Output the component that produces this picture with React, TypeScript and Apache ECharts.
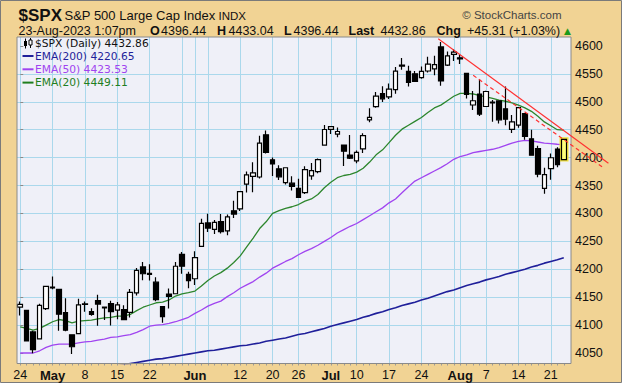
import React, { useEffect, useRef } from "react";
import * as echarts from "echarts";

const categories = [
  "2023-04-24","2023-04-25","2023-04-26","2023-04-27","2023-04-28",
  "2023-05-01","2023-05-02","2023-05-03","2023-05-04","2023-05-05",
  "2023-05-08","2023-05-09","2023-05-10","2023-05-11","2023-05-12",
  "2023-05-15","2023-05-16","2023-05-17","2023-05-18","2023-05-19",
  "2023-05-22","2023-05-23","2023-05-24","2023-05-25","2023-05-26",
  "2023-05-30","2023-05-31","2023-06-01","2023-06-02",
  "2023-06-05","2023-06-06","2023-06-07","2023-06-08","2023-06-09",
  "2023-06-12","2023-06-13","2023-06-14","2023-06-15","2023-06-16",
  "2023-06-20","2023-06-21","2023-06-22","2023-06-23",
  "2023-06-26","2023-06-27","2023-06-28","2023-06-29","2023-06-30",
  "2023-07-03","2023-07-05","2023-07-06","2023-07-07",
  "2023-07-10","2023-07-11","2023-07-12","2023-07-13","2023-07-14",
  "2023-07-17","2023-07-18","2023-07-19","2023-07-20","2023-07-21",
  "2023-07-24","2023-07-25","2023-07-26","2023-07-27","2023-07-28",
  "2023-07-31","2023-08-01","2023-08-02","2023-08-03","2023-08-04",
  "2023-08-07","2023-08-08","2023-08-09","2023-08-10","2023-08-11",
  "2023-08-14","2023-08-15","2023-08-16","2023-08-17","2023-08-18",
  "2023-08-21","2023-08-22","2023-08-23",
];

const opens = [
  4132.07,4126.43,4087.78,4075.29,4129.63,
  4166.79,4164.10,4122.25,4082.61,4084.73,
  4136.98,4124.25,4143.74,4132.24,4138.54,
  4126.65,4127.95,4122.85,4157.68,4204.15,
  4190.78,4176.80,4132.96,4155.71,4156.16,
  4226.71,4190.74,4183.03,4241.01,
  4282.99,4271.61,4285.47,4268.69,4304.88,
  4308.32,4352.61,4366.29,4365.33,4440.95,
  4396.11,4380.01,4355.40,4354.17,
  4344.84,4337.36,4367.48,4374.94,4422.44,
  4450.48,4442.04,4422.62,4404.54,
  4394.23,4415.55,4467.69,4491.50,4514.61,
  4508.86,4521.78,4563.87,4554.38,4550.16,
  4543.39,4555.19,4558.96,4598.26,4565.75,
  4584.82,4578.83,4550.93,4494.27,4513.96,
  4491.58,4498.03,4501.57,4487.36,4450.69,
  4458.13,4478.87,4433.79,4416.32,4344.88,
  4380.28,4415.33,4396.44,
];
const highs = [
  4142.41,4126.43,4089.67,4138.24,4170.06,
  4186.92,4164.10,4148.30,4082.61,4147.02,
  4142.30,4130.35,4154.28,4132.80,4143.74,
  4141.25,4135.54,4164.67,4202.20,4212.91,
  4209.22,4185.68,4132.96,4165.74,4212.87,
  4231.10,4195.44,4232.43,4290.67,
  4299.28,4288.33,4299.19,4298.01,4322.62,
  4340.13,4375.37,4391.82,4439.20,4448.47,
  4400.15,4386.22,4382.25,4366.55,
  4362.06,4384.42,4390.35,4398.39,4458.48,
  4456.46,4454.06,4422.62,4440.39,
  4412.60,4443.64,4488.34,4517.38,4527.76,
  4532.85,4562.30,4578.43,4564.74,4555.00,
  4563.41,4580.62,4582.47,4607.07,4590.16,
  4594.22,4584.62,4550.93,4519.49,4540.34,
  4519.84,4503.31,4502.44,4527.37,4476.23,
  4490.33,4478.87,4449.95,4421.17,4381.82,
  4407.55,4418.59,4433.04,
];
const lows = [
  4117.41,4071.38,4049.35,4075.29,4127.18,
  4164.12,4089.72,4088.86,4048.28,4084.73,
  4123.81,4116.65,4098.92,4109.29,4099.12,
  4110.27,4109.86,4113.62,4153.14,4180.20,
  4179.68,4142.54,4103.98,4129.73,4156.16,
  4192.18,4166.15,4171.64,4241.01,
  4266.82,4263.09,4263.96,4261.07,4291.70,
  4304.37,4337.54,4337.85,4362.60,4407.44,
  4367.19,4360.14,4351.82,4341.34,
  4328.08,4335.00,4360.22,4371.97,4422.44,
  4442.29,4436.61,4385.05,4397.40,
  4389.92,4408.46,4463.23,4489.36,4499.56,
  4504.90,4514.59,4557.48,4527.56,4535.79,
  4541.29,4552.42,4547.58,4528.56,4564.01,
  4573.14,4567.53,4505.75,4485.54,4474.55,
  4491.15,4464.39,4461.33,4457.92,4443.98,
  4453.44,4432.19,4403.55,4364.83,4335.31,
  4360.30,4382.77,4396.44,
];
const closes = [
  4137.04,4071.63,4055.99,4135.35,4169.48,
  4167.87,4119.58,4090.75,4061.22,4136.25,
  4138.12,4119.17,4137.64,4130.62,4124.08,
  4136.28,4109.90,4158.77,4198.05,4191.98,
  4192.63,4145.58,4115.24,4151.28,4205.45,
  4205.52,4179.83,4221.02,4282.37,
  4273.79,4283.85,4267.52,4293.93,4298.86,
  4338.93,4369.01,4372.59,4425.84,4409.59,
  4388.71,4365.69,4381.89,4348.33,
  4328.82,4378.41,4376.86,4396.44,4450.38,
  4455.59,4446.82,4411.59,4398.95,
  4409.53,4439.26,4472.16,4510.04,4505.42,
  4522.79,4554.98,4565.72,4534.87,4536.34,
  4554.64,4567.46,4566.75,4537.41,4582.23,
  4588.96,4576.73,4513.39,4501.89,4478.03,
  4518.44,4499.38,4467.71,4468.83,4464.05,
  4489.72,4437.86,4404.33,4370.36,4369.71,
  4399.77,4387.55,4432.86,
];

const ema20 = [
  4097,4094,4091,4094,4100,4106,4110,4108,4104,4107,
  4108,4109,4111,4113,4114,4116,4116,4119,4126,4132,
  4136,4140,4141,4145,4152,4156,4158,4161,4170,4180,
  4188,4194,4202,4212,4224,4240,4256,4273,4285,4300,
  4305,4309,4312,4316,4322,4326,4334,4346,4356,4364,
  4368,4370,4374,4381,4392,4405,4414,4427,4440,4451,
  4458,4465,4472,4481,4489,4494,4502,4510,4515,4515,
  4514,4511,4509,4506,4503,4501,4498,4494,4489,4483,
  4474,4464,4457,4450,4449.11,
];
const ema50 = [
  4050,4050,4050,4054,4060,4064,4066,4066,4066,4068,
  4070,4071,4073,4075,4078,4079,4081,4083,4087,4092,
  4098,4100,4101,4103,4106,4110,4114,4121,4127,4134,
  4139,4143,4151,4158,4166,4172,4178,4186,4193,4202,
  4208,4214,4219,4226,4232,4237,4243,4250,4257,4265,
  4271,4277,4282,4289,4296,4303,4310,4319,4326,4337,
  4348,4358,4364,4370,4376,4382,4389,4397,4402,4405,
  4409,4411,4413,4415,4418,4422,4426,4429,4431,4430,
  4428,4426,4425,4424,4423.53,
];
const ema200 = [
  4005,4006,4007,4008,4010,4011,4012,4013,4014,4016,
  4017,4019,4020,4022,4024,4027,4029,4031,4033,4035,
  4037,4039,4040,4042,4044,4046,4048,4050,4052,4054,
  4055,4057,4059,4061,4063,4064,4066,4068,4071,4073,
  4075,4077,4080,4083,4085,4088,4091,4094,4098,4101,
  4104,4107,4110,4114,4117,4121,4124,4128,4131,4135,
  4138,4141,4145,4148,4152,4156,4160,4163,4167,4171,
  4174,4177,4181,4184,4187,4191,4194,4197,4200,4204,
  4207,4211,4214,4217,4220.65,
];

const yTicks = [4050,4100,4150,4200,4250,4300,4350,4400,4450,4500,4550,4600];
const tickLabels: [string, string][] = [
  ["2023-04-24","24"],["2023-05-01","May"],["2023-05-08","8"],["2023-05-15","15"],
  ["2023-05-22","22"],["2023-06-01","Jun"],["2023-06-12","12"],["2023-06-20","20"],
  ["2023-06-26","26"],["2023-07-03","Jul"],["2023-07-10","10"],["2023-07-17","17"],
  ["2023-07-24","24"],["2023-08-01","Aug"],["2023-08-07","7"],["2023-08-14","14"],
  ["2023-08-21","21"],
];
const monthLabels = ["May","Jun","Jul","Aug"];
const gridDates = [
  "2023-04-24","2023-05-01","2023-05-08","2023-05-15","2023-05-22","2023-05-30",
  "2023-06-01","2023-06-05","2023-06-12","2023-06-20","2023-06-26","2023-07-03",
  "2023-07-10","2023-07-17","2023-07-24","2023-07-31","2023-08-01","2023-08-07",
  "2023-08-14","2023-08-21",
];
// trendlines: [trading-day position, price]
const trendSolid = [[64.6, 4613], [90.9, 4390]];
const trendDashed = [[70.0, 4547.5], [90.0, 4383]];

const legendItems = [
  { label: "EMA(200) 4220.65", color: "#1f1f9a" },
  { label: "EMA(50) 4423.53", color: "#a044f0" },
  { label: "EMA(20) 4449.11", color: "#1f7f1f" },
];

export default function App() {
  const ref = useRef<HTMLDivElement>(null);
  useEffect(() => {
    const el = ref.current;
    if (!el) return;
    const chart = echarts.init(el, undefined, { renderer: "svg" });

    const labelMap = new Map(tickLabels);
    const gridSet = new Set(gridDates);
    const last = categories.length - 1;
    const band = 550 / 85;
    const gbLeft = 17 + band / 2;
    const gbWidth = band * (categories.length - 1);

    const candleData = categories.map((_, i) => {
      const v = [opens[i], closes[i], lows[i], highs[i]];
      if (i === last) {
        return { value: v, itemStyle: { color: "#ffff7a", borderColor: "#000" } };
      }
      return v;
    });

    const SANS = "Liberation Sans";
    const txt = (text: string, x: number, y: number, size: number, opts: any = {}) => ({
      type: "text",
      x,
      y,
      z: 20,
      silent: true,
      style: {
        text,
        fill: opts.fill || "#111",
        fontSize: size,
        fontFamily: opts.family || SANS,
        fontWeight: opts.bold ? "bold" : "normal",
        align: opts.align || "left",
        verticalAlign: "middle",
      },
    });

    const graphics: any[] = [
      { type: "rect", z: -20, silent: true, shape: { x: 0.5, y: 0.5, width: 621, height: 382 }, style: { fill: "#f1d394", stroke: "#7a7a7a", lineWidth: 1 } },
      { type: "rect", z: -10, silent: true, shape: { x: 17, y: 37, width: 554, height: 326.5 }, style: { fill: "#eff0f8" } },
      { type: "rect", z: 15, silent: true, shape: { x: 17, y: 37, width: 554, height: 326.5 }, style: { fill: "none", stroke: "#8a8a8a", lineWidth: 1 } },
      txt("$SPX", 18.5, 15, 17, { bold: true }),
      txt("S&P 500 Large Cap Index", 64.5, 15, 13),
      txt("INDX", 218.5, 15.5, 11.5),
      txt("\u00A9 StockCharts.com", 561.5, 15, 11.5, { align: "right", fill: "#444" }),
      txt("23-Aug-2023 1:07pm", 18.5, 30.5, 12.5),
      txt("O", 150, 30.5, 12.5, { bold: true }),
      txt("4396.44", 161, 30.5, 12.5),
      txt("H", 217, 30.5, 12.5, { bold: true }),
      txt("4433.04", 228.5, 30.5, 12.5),
      txt("L", 284, 30.5, 12.5, { bold: true }),
      txt("4396.44", 293.5, 30.5, 12.5),
      txt("Last", 348.5, 30.5, 12.5, { bold: true }),
      txt("4432.86", 380.5, 30.5, 12.5),
      txt("Chg", 436.5, 30.5, 12.5, { bold: true }),
      txt("+45.31 (+1.03%)", 467, 30.5, 12.5),
      txt("\u25B2", 564, 31, 9, { fill: "#1a9a1a", family: "DejaVu Sans" }),
      // candle icon in legend
      { type: "line", z: 20, silent: true, shape: { x1: 25.5, y1: 38.5, x2: 25.5, y2: 48.5 }, style: { stroke: "#000", lineWidth: 1 } },
      { type: "rect", z: 20, silent: true, shape: { x: 24, y: 41, width: 3, height: 5 }, style: { fill: "#000" } },
      { type: "line", z: 20, silent: true, shape: { x1: 30.5, y1: 38, x2: 30.5, y2: 48 }, style: { stroke: "#000", lineWidth: 1 } },
      { type: "rect", z: 20, silent: true, shape: { x: 29, y: 40, width: 3, height: 5 }, style: { fill: "#fff", stroke: "#000", lineWidth: 1 } },
      txt("$SPX (Daily) 4432.86", 35, 43.2, 10.7, { family: "DejaVu Sans" }),
    ];
    legendItems.forEach((it, k) => {
      const y = 56 + k * 13.3;
      graphics.push({ type: "line", z: 20, silent: true, shape: { x1: 22.5, y1: y, x2: 33.5, y2: y }, style: { stroke: it.color, lineWidth: 2 } });
      graphics.push(txt(it.label, 35, y, 10.7, { family: "DejaVu Sans", fill: it.color }));
    });

    const option: any = {
      animation: false,
      backgroundColor: "transparent",
      grid: [
        { left: 17, top: 18.09, width: 554, height: 362.82, show: false },
        { left: gbLeft, top: 37, width: gbWidth, height: 326.5, show: false },
      ],
      xAxis: [
        { type: "value", gridIndex: 0, min: -0.5, max: -0.5 + 554 / band, show: false },
        {
          type: "category",
          gridIndex: 1,
          data: categories,
          boundaryGap: false,
          axisLine: { show: false },
          axisTick: { show: true, interval: 0, length: 2, lineStyle: { color: "#9a9a9a" } },
          axisLabel: {
            interval: (_i: number, v: string) => labelMap.has(v),
            formatter: (v: string) => {
              const l = labelMap.get(v) || "";
              return monthLabels.includes(l) ? `{b|${l}}` : l;
            },
            fontSize: 12.5,
            fontFamily: SANS,
            color: "#111",
            margin: 5,
            rich: { b: { fontWeight: "bold", fontSize: 13, fontFamily: SANS, color: "#111" } },
          },
          splitLine: {
            show: true,
            interval: (_i: number, v: string) => gridSet.has(v),
            lineStyle: { color: "#aad8ec", width: 1 },
          },
        },
      ],
      yAxis: [
        {
          type: "value",
          gridIndex: 0,
          position: "right",
          min: 4000,
          max: 4650,
          interval: 50,
          axisLine: { show: false },
          axisTick: { show: true, length: 3, lineStyle: { color: "#8a8a8a" }, customValues: yTicks },
          axisLabel: {
            margin: 4,
            fontSize: 12.5,
            fontFamily: SANS,
            color: "#111",
            customValues: yTicks,
            formatter: (v: number) => (yTicks.includes(v) ? String(v) : ""),
          },
          splitLine: { show: true, showMinLine: false, showMaxLine: false, lineStyle: { color: "#aad8ec", width: 1 } },
        },
        { type: "value", gridIndex: 1, min: 4031.2, max: 4616.1, show: false, splitLine: { show: false } },
      ],
      series: [
        {
          type: "line", xAxisIndex: 1, yAxisIndex: 1, data: ema200, showSymbol: false, symbol: "none",
          lineStyle: { color: "#1f1f9a", width: 1.6 }, clip: true, silent: true, z: 3,
        },
        {
          type: "line", xAxisIndex: 1, yAxisIndex: 1, data: ema50, showSymbol: false, symbol: "none",
          lineStyle: { color: "#a044f0", width: 1.3 }, clip: true, silent: true, z: 3,
        },
        {
          type: "line", xAxisIndex: 1, yAxisIndex: 1, data: ema20, showSymbol: false, symbol: "none",
          lineStyle: { color: "#2d862d", width: 1.3 }, clip: true, silent: true, z: 3,
        },
        {
          type: "candlestick", xAxisIndex: 1, yAxisIndex: 1,
          data: [{ value: [last, opens[last], closes[last], lows[last], highs[last]] }],
          encode: { x: 0, y: [1, 2, 3, 4] },
          barWidth: 6, clip: false, silent: true, z: 4,
          itemStyle: { color: "#f3e23c", color0: "#f3e23c", borderColor: "#f3e23c", borderColor0: "#f3e23c", borderWidth: 4 },
        },
        {
          type: "candlestick", xAxisIndex: 1, yAxisIndex: 1, data: candleData,
          barWidth: 5, clip: false, silent: true, z: 5,
          itemStyle: { color: "#ffffff", color0: "#000000", borderColor: "#000000", borderColor0: "#000000", borderWidth: 1.2 },
        },
      ],
      graphic: graphics,
    };
    chart.setOption(option);

    // trendlines mapped through grid 0's axes (extend past the plot edge)
    const toPx = (p: number[]) => chart.convertToPixel({ xAxisIndex: 0, yAxisIndex: 0 }, p) as number[];
    const s0 = toPx(trendSolid[0]);
    const s1 = toPx(trendSolid[1]);
    const d0 = toPx(trendDashed[0]);
    const d1 = toPx(trendDashed[1]);
    const lines: any[] = [
      { type: "line", z: 18, silent: true, shape: { x1: s0[0], y1: s0[1], x2: s1[0], y2: s1[1] }, style: { stroke: "#ff3030", lineWidth: 1.1 } },
      { type: "line", z: 18, silent: true, shape: { x1: d0[0], y1: d0[1], x2: d1[0], y2: d1[1] }, style: { stroke: "#ff3030", lineWidth: 1.2, lineDash: [4, 3] } },
    ];
    chart.setOption({ graphic: graphics.concat(lines) });

    return () => chart.dispose();
  }, []);
  return (
    <div style={{ position: "absolute", left: 0, top: 0, width: 628, height: 384, background: "#ffffff" }}>
      <div ref={ref} style={{ width: 628, height: 384 }} />
    </div>
  );
}
